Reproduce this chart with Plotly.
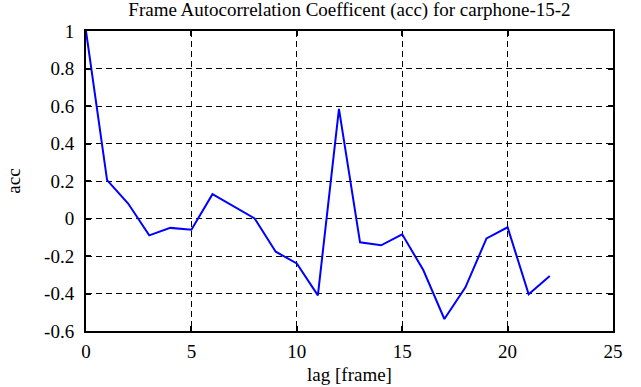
import plotly.graph_objects as go

lags = list(range(0, 23))
acc = [1.0, 0.205, 0.08, -0.09, -0.05, -0.06, 0.13, 0.063, 0.0, -0.177, -0.24, -0.41,
       0.585, -0.127, -0.143, -0.084, -0.275, -0.536, -0.367, -0.106, -0.047, -0.404, -0.307]

x_ticks = [0, 5, 10, 15, 20, 25]
y_ticks = [-0.6, -0.4, -0.2, 0, 0.2, 0.4, 0.6, 0.8, 1]
y_tick_text = ["-0.6", "-0.4", "-0.2", "0", "0.2", "0.4", "0.6", "0.8", "1"]

font = "Liberation Serif, Times New Roman, serif"
fs = 19

fig = go.Figure()
fig.add_trace(go.Scatter(x=lags, y=acc, mode="lines",
                         line=dict(color="#0000ff", width=2), showlegend=False))

axis_common = dict(showline=True, linecolor="black", linewidth=2, mirror="ticks",
                   ticks="inside", ticklen=5, tickwidth=1.5, tickcolor="black",
                   showgrid=True, gridcolor="black", gridwidth=1, griddash="6px,4px",
                   zeroline=False, automargin=False,
                   tickfont=dict(family=font, size=fs, color="black"))

fig.update_layout(
    width=641, height=387,
    margin=dict(l=86, r=28, t=31, b=56),
    paper_bgcolor="white", plot_bgcolor="white",
    title=dict(text="Frame Autocorrelation Coefficent (acc) for carphone-15-2",
               x=(86 + 613) / 2 / 641, xanchor="center", y=1, yanchor="top",
               yref="container", pad=dict(t=3, b=0, l=0, r=0),
               font=dict(family=font, size=19, color="black")),
    xaxis=dict(range=[0, 25], tickvals=x_ticks, ticklabelstandoff=2,
               title=dict(text="lag [frame]", font=dict(family=font, size=fs, color="black"), standoff=7),
               **axis_common),
    yaxis=dict(range=[-0.6, 1], tickvals=y_ticks, ticktext=y_tick_text, ticklabelstandoff=6,
               title=dict(text="acc", font=dict(family=font, size=fs, color="black"), standoff=18),
               **axis_common),
)

fig.write_html("out.html", config={"displayModeBar": False},
               post_script="document.body.style.margin='0';document.body.style.overflow='hidden';")
